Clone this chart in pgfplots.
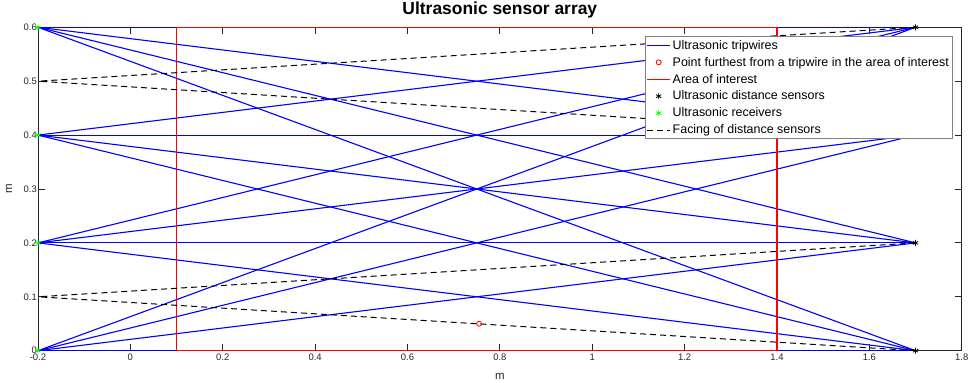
\documentclass[border=0pt]{standalone}
\usepackage{fontspec}
\setmainfont{Liberation Sans}
\usepackage{pgfplots}
\pgfplotsset{compat=1.18}
\definecolor{axgray}{rgb}{0.15,0.15,0.15}
\definecolor{mgreen}{rgb}{0,1,0}
\begin{document}
\begin{tikzpicture}
\begin{axis}[
  scale only axis,
  width=924bp, height=323.5bp,
  xmin=-0.2, xmax=1.8, ymin=0, ymax=0.6,
  xtick={-0.2,0,0.2,0.4,0.6,0.8,1,1.2,1.4,1.6,1.8},
  xticklabels={-0.2,0,0.2,0.4,0.6,0.8,1,1.2,1.4,1.6,1.8},
  ytick={0,0.1,0.2,0.3,0.4,0.5,0.6},
  yticklabels={0,0.1,0.2,0.3,0.4,0.5,0.6},
  tick align=inside,
  major tick length=7bp,
  axis line style={axgray, line width=0.8bp},
  every tick/.style={axgray, line width=0.8bp},
  tick label style={font=\fontsize{9.5}{10}\selectfont, text=axgray},
  xticklabel style={inner sep=1bp, yshift=-2bp},
  yticklabel style={inner sep=1bp},
  xlabel={m}, ylabel={m},
  label style={font=\fontsize{11.5}{12}\selectfont, text=axgray},
  xlabel style={yshift=-8bp},
  ylabel style={yshift=7bp},
  title={Ultrasonic sensor array},
  title style={font=\bfseries\fontsize{17.5}{19}\selectfont, inner sep=0pt, yshift=3bp},
  legend image code/.code={\draw[mark repeat=2,mark phase=2,#1] plot coordinates {(0bp,0bp) (11.5bp,0bp) (23bp,0bp)};},
  legend cell align=left,
  legend style={at={(1,1)}, anchor=north east, xshift=-9bp, yshift=-9bp,
    draw=gray, line width=0.8bp, fill=white,
    font=\fontsize{12.5}{14}\selectfont, inner sep=1.5bp, row sep=2.4bp,
    nodes={inner sep=2bp}},
]
% tripwires
\addplot[blue, line width=1.1bp] coordinates {(-0.2,0.6) (1.7,0.6)};
\addlegendentry{Ultrasonic tripwires}
\addplot[blue, line width=1.1bp, forget plot] coordinates {(-0.2,0.6) (1.7,0.4)};
\addplot[blue, line width=1.1bp, forget plot] coordinates {(-0.2,0.6) (1.7,0.2)};
\addplot[blue, line width=1.1bp, forget plot] coordinates {(-0.2,0.6) (1.7,0)};
\addplot[blue, line width=1.1bp, forget plot] coordinates {(-0.2,0.4) (1.7,0.6)};
\addplot[blue, line width=1.1bp, forget plot] coordinates {(-0.2,0.4) (1.7,0.4)};
\addplot[blue, line width=1.1bp, forget plot] coordinates {(-0.2,0.4) (1.7,0.2)};
\addplot[blue, line width=1.1bp, forget plot] coordinates {(-0.2,0.4) (1.7,0)};
\addplot[blue, line width=1.1bp, forget plot] coordinates {(-0.2,0.2) (1.7,0.6)};
\addplot[blue, line width=1.1bp, forget plot] coordinates {(-0.2,0.2) (1.7,0.4)};
\addplot[blue, line width=1.1bp, forget plot] coordinates {(-0.2,0.2) (1.7,0.2)};
\addplot[blue, line width=1.1bp, forget plot] coordinates {(-0.2,0.2) (1.7,0)};
\addplot[blue, line width=1.1bp, forget plot] coordinates {(-0.2,0) (1.7,0.6)};
\addplot[blue, line width=1.1bp, forget plot] coordinates {(-0.2,0) (1.7,0.4)};
\addplot[blue, line width=1.1bp, forget plot] coordinates {(-0.2,0) (1.7,0.2)};
\addplot[blue, line width=1.6bp, forget plot] coordinates {(-0.2,0) (1.7,0)};
% furthest point
\addplot[red, only marks, mark=o, mark size=2.5bp, line width=0.8bp] coordinates {(0.755,0.05)};
\addlegendentry{Point furthest from a tripwire in the area of interest}
% area of interest
\addplot[red, line width=1.1bp] coordinates {(0.1,0) (0.1,0.6) (1.4,0.6) (1.4,0) (0.1,0)};
\addlegendentry{Area of interest}
% distance sensors
\addplot[black, only marks, mark=asterisk, mark size=3bp, line width=0.8bp] coordinates {(1.7,0) (1.7,0.2) (1.7,0.4) (1.7,0.6)};
\addlegendentry{Ultrasonic distance sensors}
% receivers
\addplot[mgreen, only marks, mark=asterisk, mark size=3bp, line width=0.8bp] coordinates {(-0.2,0) (-0.2,0.2) (-0.2,0.4) (-0.2,0.6)};
\addlegendentry{Ultrasonic receivers}
% facing
\addplot[black, line width=1bp, dash pattern=on 6bp off 4bp] coordinates {(1.7,0.6) (-0.2,0.5)};
\addlegendentry{Facing of distance sensors}
\addplot[black, line width=1bp, dash pattern=on 6bp off 4bp, forget plot] coordinates {(1.7,0.4) (-0.2,0.5)};
\addplot[black, line width=1bp, dash pattern=on 6bp off 4bp, forget plot] coordinates {(1.7,0.2) (-0.2,0.1)};
\addplot[black, line width=1bp, dash pattern=on 6bp off 4bp, forget plot] coordinates {(1.7,0) (-0.2,0.1)};
\end{axis}
\pgfresetboundingbox
\path ([shift={(-38bp,-32bp)}]current axis.south west) rectangle ([shift={(7.3bp,27.3bp)}]current axis.north east);
\end{tikzpicture}
\end{document}
